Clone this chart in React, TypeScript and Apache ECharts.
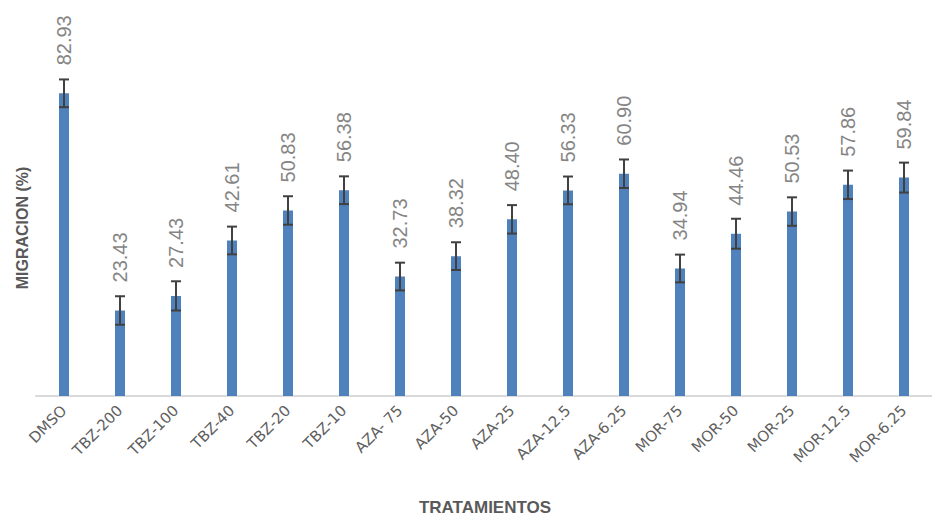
import React, { useEffect, useRef } from "react";
import * as echarts from "echarts";

const categories = [
  "DMSO", "TBZ-200", "TBZ-100", "TBZ-40", "TBZ-20", "TBZ-10",
  "AZA- 75", "AZA-50", "AZA-25", "AZA-12.5", "AZA-6.25",
  "MOR-75", "MOR-50", "MOR-25", "MOR-12.5", "MOR-6.25",
];
const migration = [
  82.93, 23.43, 27.43, 42.61, 50.83, 56.38,
  32.73, 38.32, 48.4, 56.33, 60.9,
  34.94, 44.46, 50.53, 57.86, 59.84,
];
const errors = [
  3.8, 3.9, 4.0, 3.8, 3.9, 3.8,
  3.8, 3.8, 3.9, 3.8, 3.9,
  3.8, 4.1, 3.9, 3.9, 4.1,
];
const xTitle = "TRATAMIENTOS";
const yTitle = "MIGRACION (%)";

export default function App() {
  const ref = useRef<HTMLDivElement>(null);
  useEffect(() => {
    if (!ref.current) return;
    const chart = echarts.init(ref.current, undefined, { renderer: "svg" });
    const errData = migration.map((v, i) => [i, v, errors[i]]);
    chart.setOption({
      animation: false,
      backgroundColor: "#ffffff",
      grid: { left: 36, top: 31, width: 904, height: 365 },
      xAxis: {
        type: "category",
        data: categories,
        axisLine: { lineStyle: { color: "#d9d9d9", width: 2 } },
        axisTick: { show: false },
        axisLabel: {
          rotate: 45,
          interval: 0,
          margin: 12,
          color: "#5f5f5f",
          fontSize: 15,
          fontFamily: "DejaVu Sans",
        },
      },
      yAxis: {
        type: "value",
        min: 0,
        max: 100,
        axisLine: { show: false },
        axisTick: { show: false },
        axisLabel: { show: false },
        splitLine: { show: false },
      },
      series: [
        {
          type: "bar",
          data: migration,
          barWidth: 10,
          itemStyle: { color: "#4f81bd" },
          label: {
            show: true,
            position: "top",
            distance: 28,
            rotate: 90,
            align: "left",
            verticalAlign: "middle",
            formatter: (p: any) => Number(p.value).toFixed(2),
            color: "#858585",
            fontSize: 20,
            fontFamily: "Liberation Sans",
          },
        },
        {
          type: "custom",
          data: errData,
          z: 10,
          renderItem: (params: any, api: any) => {
            const i = api.value(0);
            const v = api.value(1);
            const e = api.value(2);
            const top = api.coord([i, v + e]);
            const bot = api.coord([i, v - e]);
            const hw = 5;
            const style = { stroke: "#404040", lineWidth: 2 };
            return {
              type: "group",
              children: [
                { type: "line", shape: { x1: top[0], y1: top[1], x2: bot[0], y2: bot[1] }, style },
                { type: "line", shape: { x1: top[0] - hw, y1: top[1], x2: top[0] + hw, y2: top[1] }, style },
                { type: "line", shape: { x1: bot[0] - hw, y1: bot[1], x2: bot[0] + hw, y2: bot[1] }, style },
              ],
            };
          },
        },
      ],
      graphic: [
        {
          type: "text",
          x: 485,
          y: 507,
          style: {
            text: xTitle,
            fill: "#595959",
            font: "bold 17px 'Liberation Sans'",
            align: "center",
            verticalAlign: "middle",
          },
        },
        {
          type: "text",
          x: 22,
          y: 228,
          rotation: Math.PI / 2,
          style: {
            text: yTitle,
            fill: "#595959",
            font: "bold 16px 'Liberation Sans'",
            align: "center",
            verticalAlign: "middle",
          },
        },
      ],
    });
    return () => chart.dispose();
  }, []);
  return (
    <div
      ref={ref}
      style={{ position: "fixed", left: 0, top: 0, width: 932, height: 516 }}
    />
  );
}
